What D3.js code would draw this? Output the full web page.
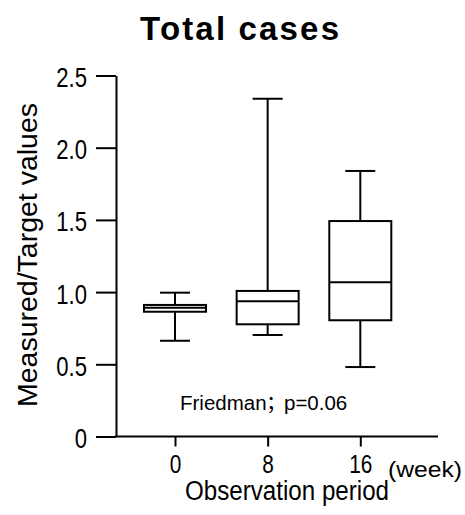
<!DOCTYPE html>
<html>
<head>
<meta charset="utf-8">
<script src="https://cdn.jsdelivr.net/npm/d3@7"></script>
<style>
  html, body { margin: 0; padding: 0; background: #fff; }
  svg { display: block; }
  text { font-family: "Liberation Sans", Arial, "Noto Sans CJK JP", sans-serif; fill: #000; }
</style>
</head>
<body>
<svg id="chart" width="465" height="515"></svg>
<script>
// ---- data ----
const categories = ["0", "8", "16"];
const whiskerLow  = [0.663, 0.703, 0.481];
const quartile1   = [0.864, 0.777, 0.805];
const medians     = [0.892, 0.936, 1.068];
const quartile3   = [0.911, 1.008, 1.492];
const whiskerHigh = [0.996, 2.339, 1.839];
const yTickValues = [0, 0.5, 1.0, 1.5, 2.0, 2.5];
const yTickLabels = ["0", "0.5", "1.0", "1.5", "2.0", "2.5"];
const titleText = "Total cases";
const yLabelText = "Measured/Target values";
const xLabelText = "Observation period";
const unitText = "(week)";
const statTest = "Friedman";
const statSep = "；";
const statP = "p=0.06";

// ---- layout ----
const svg = d3.select("#chart");
const axisX = 116, axisY = 436.5, axisRight = 438, plotTop = 75.5;
const y = d3.scaleLinear().domain([0, 2.5]).range([axisY, plotTop]);
const x = d3.scalePoint().domain(categories).range([175, 360.3]);
const boxHalf = 31, capHalf = 15, sw = 2;

// title
svg.append("text").attr("x", 239.5).attr("y", 39.5)
  .attr("text-anchor", "middle").attr("font-size", 33).attr("font-weight", "bold")
  .attr("textLength", 199).attr("lengthAdjust", "spacing")
  .text(titleText);

// y axis
const yAxis = svg.append("g").attr("transform", `translate(${axisX},0)`)
  .call(d3.axisLeft(y).tickValues(yTickValues).tickFormat((d, i) => yTickLabels[i])
    .tickSize(20).tickSizeOuter(0));
yAxis.select(".domain").attr("stroke", "#000").attr("stroke-width", sw);
yAxis.selectAll(".tick line").attr("stroke", "#000").attr("stroke-width", sw);
const sy = 0.82;
yAxis.selectAll(".tick text")
  .attr("font-size", 27).attr("font-family", null)
  .attr("x", -29 / sy).attr("dy", 0).attr("y", 11)
  .attr("transform", `scale(${sy},1)`).attr("fill", "#000");

// x axis
const xAxis = svg.append("g").attr("transform", `translate(0,${axisY})`)
  .call(d3.axisBottom(x).tickSize(10).tickSizeOuter(0));
xAxis.select(".domain").remove();
xAxis.append("line").attr("x1", axisX - 1).attr("x2", axisRight)
  .attr("stroke", "#000").attr("stroke-width", sw);
xAxis.selectAll(".tick line").attr("stroke", "#000").attr("stroke-width", sw);
const sx = 0.8;
xAxis.selectAll(".tick text")
  .attr("font-size", 26).attr("font-family", null)
  .attr("dy", 0).attr("y", 36.8).attr("x", 0)
  .attr("transform", `scale(${sx},1)`).attr("fill", "#000");

// unit label
svg.append("text").attr("x", 388).attr("y", 477)
  .attr("font-size", 22).attr("textLength", 74).attr("lengthAdjust", "spacingAndGlyphs")
  .text(unitText);

// axis titles
svg.append("text").attr("x", 287).attr("y", 500)
  .attr("text-anchor", "middle").attr("font-size", 27)
  .attr("textLength", 204).attr("lengthAdjust", "spacingAndGlyphs")
  .text(xLabelText);
svg.append("text").attr("transform", "translate(36.7,255) rotate(-90)")
  .attr("text-anchor", "middle").attr("font-size", 27)
  .attr("textLength", 304).attr("lengthAdjust", "spacingAndGlyphs")
  .text(yLabelText);

// boxes
const boxes = svg.append("g").attr("fill", "none").attr("stroke", "#000").attr("stroke-width", sw);
categories.forEach((c, i) => {
  const cx = x(c);
  const g = boxes.append("g");
  g.append("line").attr("x1", cx).attr("x2", cx).attr("y1", y(quartile3[i])).attr("y2", y(whiskerHigh[i]));
  g.append("line").attr("x1", cx).attr("x2", cx).attr("y1", y(quartile1[i])).attr("y2", y(whiskerLow[i]));
  g.append("line").attr("x1", cx - capHalf).attr("x2", cx + capHalf).attr("y1", y(whiskerHigh[i])).attr("y2", y(whiskerHigh[i]));
  g.append("line").attr("x1", cx - capHalf).attr("x2", cx + capHalf).attr("y1", y(whiskerLow[i])).attr("y2", y(whiskerLow[i]));
  g.append("rect").attr("x", cx - boxHalf).attr("width", 2 * boxHalf)
    .attr("y", y(quartile3[i])).attr("height", y(quartile1[i]) - y(quartile3[i]))
    .attr("fill", "#fff");
  g.append("line").attr("x1", cx - boxHalf).attr("x2", cx + boxHalf).attr("y1", y(medians[i])).attr("y2", y(medians[i]));
});

// statistics note
const stat = svg.append("text").attr("y", 410).attr("font-size", 20.5).attr("fill", "#333");
stat.append("tspan").attr("x", 180).text(statTest);
stat.append("tspan").attr("x", 266).attr("font-family", "'Noto Sans CJK SC', sans-serif").text(statSep);
stat.append("tspan").attr("x", 284).text(statP);
</script>
</body>
</html>
